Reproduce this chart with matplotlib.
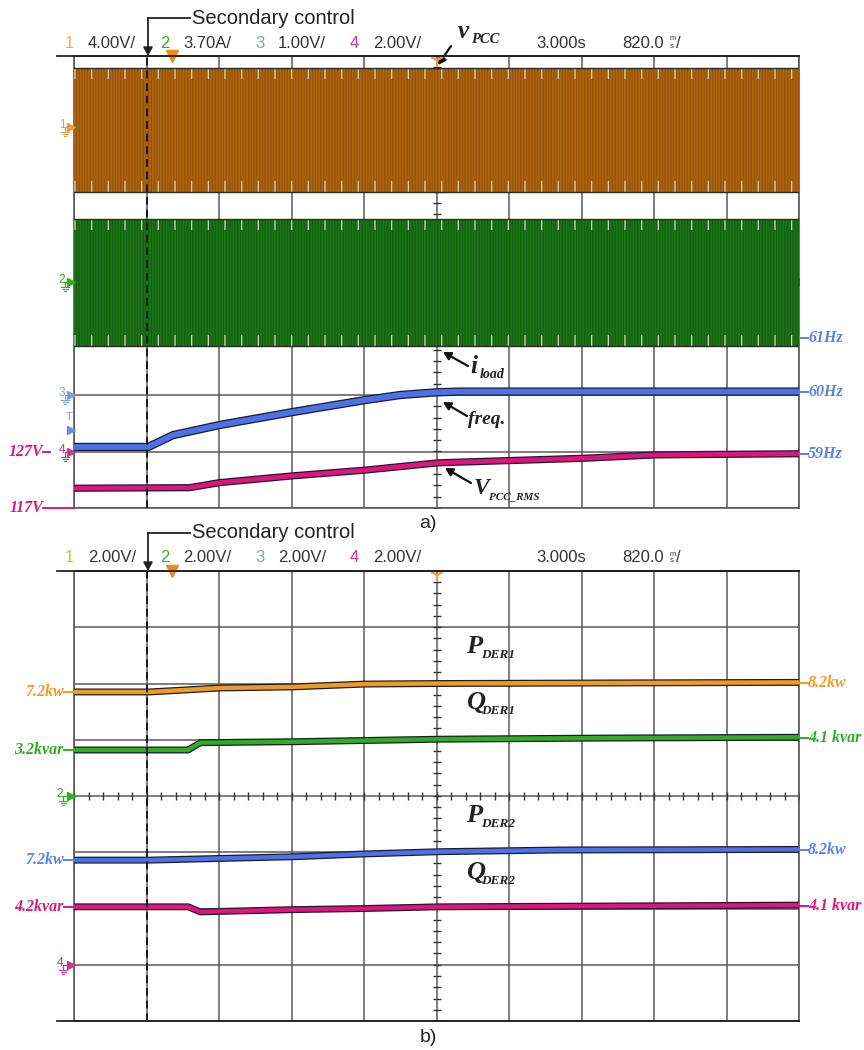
import numpy as np
import matplotlib
matplotlib.use("Agg")
import matplotlib.pyplot as plt
import matplotlib.patheffects as pe
from matplotlib.lines import Line2D
from matplotlib import font_manager as fm

W, H, DPI = 864, 1050, 100

# ---------------- data (screen divisions, time in s) ----------------
T_DIV = 0.82                      # 820 ms/div
t_span = [0.0, 8.2]               # 10 divisions
t_secondary = 0.82                # secondary control start

# panel a) AC bands: [bottom, top] envelope in divisions
vpcc_env = [1.59, 3.79]
iload_env = [-1.13, 1.115]
# frequency trace
freq_t = [0.0, 0.84, 1.12, 1.65, 2.48, 3.29, 3.69, 4.12, 4.37, 8.2]
freq_v = [-2.92, -2.92, -2.71, -2.53, -2.30, -2.09, -2.00, -1.95, -1.94, -1.94]
# V_PCC_RMS trace
vrms_t = [0.0, 1.31, 1.65, 2.48, 3.29, 4.12, 5.76, 6.57, 8.2]
vrms_v = [-3.65, -3.64, -3.55, -3.43, -3.33, -3.20, -3.12, -3.06, -3.04]

# panel b)
p1_t = [0.0, 0.86, 1.65, 2.48, 3.29, 4.14, 8.2]
p1_v = [1.85, 1.85, 1.92, 1.94, 1.99, 2.00, 2.02]
q1_t = [0.0, 1.29, 1.43, 2.48, 4.14, 6.0, 8.2]
q1_v = [0.818, 0.818, 0.948, 0.965, 1.01, 1.03, 1.044]
p2_t = [0.0, 0.86, 1.65, 2.48, 3.29, 4.14, 5.5, 8.2]
p2_v = [-1.14, -1.14, -1.11, -1.08, -1.03, -0.99, -0.96, -0.95]
q2_t = [0.0, 1.29, 1.43, 2.48, 3.29, 4.14, 8.2]
q2_v = [-1.97, -1.97, -2.06, -2.02, -2.00, -1.97, -1.94]

hdr_a = ["4.00V/", "3.70A/", "1.00V/", "2.00V/"]
hdr_b = ["2.00V/", "2.00V/", "2.00V/", "2.00V/"]
delay_txt = "3.000s"
tdiv_txt = "820.0"

# ---------------- styling ----------------
names = {f.name for f in fm.fontManager.ttflist}
NARROW = "Liberation Sans Narrow" if "Liberation Sans Narrow" in names else "Liberation Sans"
SANS = "Liberation Sans"
SERIF = "Liberation Serif"

C_OR = "#F29A1F"
C_GR = "#2FAE22"
C_BL = "#4C72E6"
C_MG = "#E0157C"
C_BLT = "#5B7FF0"
CH_COL = ["#E8B04A", "#3CAF2A", "#7FA2CF", "#C23A94"]
GRID = "#5A5A5A"

fig = plt.figure(figsize=(W / DPI, H / DPI), dpi=DPI)


def fx(x):
    return x / W


def fy(y):
    return 1 - y / H


def mkax(top, bottom):
    ax = fig.add_axes([fx(74), fy(bottom), (799 - 74) / W, (bottom - top) / H])
    ax.set_xlim(*t_span)
    ax.set_ylim(-4, 4)
    ax.set_xticks(np.arange(0, 10.5) * T_DIV)
    ax.set_yticks(np.arange(-4, 5))
    ax.tick_params(length=0, labelbottom=False, labelleft=False)
    ax.grid(True, color=GRID, lw=1.1, zorder=1)
    ax.set_axisbelow(True)
    for s in ax.spines.values():
        s.set_color(GRID)
        s.set_linewidth(1.2)
    ax.spines["top"].set_color("#222222")
    # center minor ticks
    yc = np.arange(-4, 4.01, 0.2)
    ax.plot(np.full_like(yc, 5 * T_DIV), yc, ls="none", marker="_", ms=6,
            mew=1.0, color="#333333", zorder=2)
    xc = np.arange(0, 10.01, 0.2) * T_DIV
    ax.plot(xc, np.zeros_like(xc), ls="none", marker="|", ms=6, mew=1.0,
            color="#333333", zorder=2)
    ax.axvline(t_secondary, color="#1a1a1a", lw=1.4, ls=(0, (4, 2.5)), zorder=6)
    # trigger markers
    ax.plot([1.108], [4], marker="v", ms=9, color="#F08A1A", clip_on=False, zorder=8)
    ax.plot([5 * T_DIV], [3.93], marker="1", ms=10, mew=1.6, color="#F0A040",
            clip_on=False, zorder=8)
    return ax


def trace(ax, t, v, color, lw, edge=1.8):
    ax.plot(t, v, color=color, lw=lw, solid_capstyle="butt", zorder=5,
            path_effects=[pe.Stroke(linewidth=lw + edge, foreground="#1b1b30"),
                          pe.Normal()])


def band(ax, env, face, hatch_col, spike_col):
    ax.fill_between(t_span, [env[0]] * 2, [env[1]] * 2, facecolor=face,
                    edgecolor=hatch_col, hatch="||||||", lw=0, zorder=3)
    h = 0.2
    ax.fill_between(t_span, [env[1] - h] * 2, [env[1]] * 2, facecolor="none",
                    edgecolor=spike_col, hatch="|", lw=0, zorder=4)
    ax.fill_between(t_span, [env[0]] * 2, [env[0] + h] * 2, facecolor="none",
                    edgecolor=spike_col, hatch="|", lw=0, zorder=4)
    ax.plot(t_span, [env[1]] * 2, color="#2a2a2a", lw=1.0, zorder=4)
    ax.plot(t_span, [env[0]] * 2, color="#2a2a2a", lw=1.0, zorder=4)


plt.rcParams["hatch.linewidth"] = 0.9

ax_a = mkax(56, 508)
ax_b = mkax(571, 1021)

# panel a traces
band(ax_a, vpcc_env, "#B0660E", "#94520A", "#EBD3A8")
band(ax_a, iload_env, "#1D7616", "#145E10", "#C9E3BF")
trace(ax_a, freq_t, freq_v, C_BL, 4.2)
trace(ax_a, vrms_t, vrms_v, C_MG, 3.4)

# panel b traces
trace(ax_b, p1_t, p1_v, C_OR, 3.2)
trace(ax_b, q1_t, q1_v, C_GR, 3.2)
trace(ax_b, p2_t, p2_v, C_BL, 3.2)
trace(ax_b, q2_t, q2_v, C_MG, 3.2)


def fline(x0, y0, x1, y1, color="#111", lw=1.3):
    fig.add_artist(Line2D([fx(x0), fx(x1)], [fy(y0), fy(y1)], color=color, lw=lw,
                          transform=fig.transFigure))


def farrow(x0, y0, x1, y1, lw=1.6, head=0.45, color="#111"):
    ax_a.annotate("", xy=(fx(x1), fy(y1)), xytext=(fx(x0), fy(y0)),
                  xycoords="figure fraction", textcoords="figure fraction",
                  annotation_clip=False,
                  arrowprops=dict(arrowstyle=f"-|>,head_length={head},head_width={head*0.55}",
                                  color=color, lw=lw, shrinkA=0, shrinkB=0))


def ftext(x, y, s, **kw):
    fig.text(fx(x), fy(y), s, **kw)


# extended top / bottom lines
fline(57, 56, 799, 56, "#222", 1.3)
fline(57, 571, 799, 571, "#222", 1.3)
fline(57, 1021, 799, 1021, "#222", 1.3)


def header(y, vals):
    xs_num = [65, 160, 255, 350]
    xs_val = [88, 183, 278, 373]
    for i in range(4):
        ftext(xs_num[i], y, str(i + 1), color=CH_COL[i], fontsize=12,
              family=NARROW, va="center", ha="left")
        ftext(xs_val[i], y, vals[i], color="#333333", fontsize=12,
              family=NARROW, va="center", ha="left")
    ftext(536, y, delay_txt, color="#333333", fontsize=12, family=NARROW,
          va="center", ha="left")
    ftext(622, y, tdiv_txt, color="#333333", fontsize=12, family=NARROW,
          va="center", ha="left")
    ftext(670, y - 4, "m", color="#333333", fontsize=5.5, family=NARROW,
          va="center", ha="left")
    ftext(670, y + 3, "s", color="#333333", fontsize=5.5, family=NARROW,
          va="center", ha="left")
    ftext(676, y, "/", color="#333333", fontsize=12, family=NARROW,
          va="center", ha="left")


header(43, hdr_a)
header(558, hdr_b)


def secondary(ytxt, ytop):
    ftext(192, ytxt, "Secondary control", fontsize=14.5, family=SANS,
          color="#222", va="center", ha="left")
    fline(148, ytxt, 190, ytxt, "#222", 1.3)
    farrow(148, ytxt, 148, ytop, lw=1.3, head=0.5, color="#222")


secondary(18, 56)
secondary(533, 571)

ftext(428, 523, "a)", fontsize=14, family=SANS, color="#222", ha="center", va="center")
ftext(428, 1037, "b)", fontsize=14, family=SANS, color="#222", ha="center", va="center")

BI = dict(family=SERIF, fontweight="bold", fontstyle="italic", color="#222")


def sublabel(x, y, main, sub, msize, ssize, dx, dy=6):
    ftext(x, y, main, fontsize=msize, ha="left", va="baseline", **BI)
    ftext(x + dx, y + dy, sub, fontsize=ssize, ha="left", va="baseline", **BI)


# panel a annotations
sublabel(458, 38, "v", "PCC", 18, 10.5, 13, 5)
farrow(451, 46, 438, 65)
sublabel(470, 373, "i", "load", 18, 10, 10, 5)
farrow(468, 366, 443, 352)
ftext(468, 424, "freq.", fontsize=14, ha="left", va="baseline", **BI)
farrow(467, 416, 443, 402)
sublabel(474, 494, "V", "PCC_RMS", 17, 8, 15, 5)
farrow(471, 483, 445, 468)

# panel b annotations
for (y_t, y0, y1, m, s) in [(653, 657, 676, "P", "DER1"), (709, 713, 735, "Q", "DER1"),
                           (822, 825, 845, "P", "DER2"), (879, 883, 903, "Q", "DER2")]:
    sublabel(466, y_t, m, s, 19, 9.5, 15, 5)
    farrow(467, y0, 444, y1)


def rlabel(y, s, color):
    fline(800, y, 808, y, color, 1.4)
    ftext(808, y, s, fontsize=11.5, ha="left", va="center", color=color,
          family=SERIF, fontweight="bold", fontstyle="italic")


def llabel(y, s, color, xend=64, x_line_end=74):
    fline(xend, y, x_line_end, y, color, 1.4)
    ftext(xend, y, s, fontsize=11.5, ha="right", va="center", color=color,
          family=SERIF, fontweight="bold", fontstyle="italic")


rlabel(338, "61Hz", C_BLT)
rlabel(392, "60Hz", C_BLT)
rlabel(454, "59Hz", C_BLT)
llabel(452, "127V", C_MG, 43, 50)
llabel(508, "117V", C_MG, 43, 74)

rlabel(683, "8.2kw", C_OR)
rlabel(738, "4.1 kvar", C_GR)
rlabel(850, "8.2kw", C_BLT)
rlabel(906, "4.1 kvar", C_MG)
llabel(692, "7.2kw", C_OR)
llabel(750, "3.2kvar", C_GR)
llabel(860, "7.2kw", C_BLT)
llabel(907, "4.2kvar", C_MG)


# channel ground markers
def chmark(y, label, color, x=62):
    ftext(x, y - 2, label, fontsize=8.5, family=NARROW, color=color,
          ha="center", va="center")
    fig.add_artist(Line2D([fx(71)], [fy(y)], marker=">", ms=6, color=color,
                          transform=fig.transFigure))
    fline(x + 3, y, 69, y, color, 0.8)
    fline(x + 3, y, x + 3, y + 5, color, 0.8)
    fline(x - 1, y + 5, x + 7, y + 5, color, 0.8)
    fline(x + 0.5, y + 7, x + 5.5, y + 7, color, 0.8)
    fline(x + 2, y + 9, x + 4, y + 9, color, 0.8)


chmark(127, "1", "#E0A040")
chmark(282, "2", C_GR)
chmark(395, "3", "#7FA2CF")
ftext(69, 417, "T", fontsize=8, family=NARROW, color="#7FA2CF", ha="center", va="center")
fig.add_artist(Line2D([fx(71)], [fy(430)], marker=">", ms=6, color="#6A8FE0",
                      transform=fig.transFigure))
chmark(452, "4", "#C23A94")
chmark(796, "2", C_GR, x=60)
chmark(965, "4", "#C23A94", x=60)

fig.savefig("out.png", dpi=DPI, facecolor="white")
